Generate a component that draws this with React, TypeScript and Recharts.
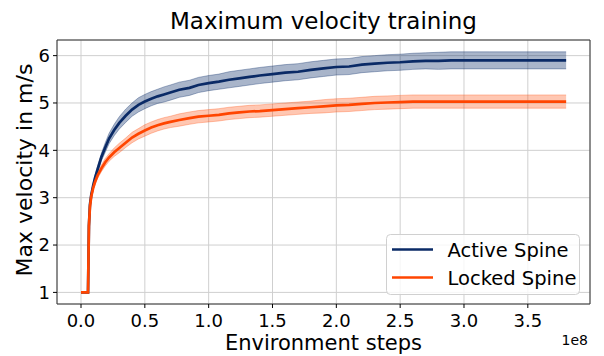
import React from 'react';
import { ComposedChart, Line, Area, XAxis, YAxis, CartesianGrid, ReferenceArea, Label } from 'recharts';

// environment steps, in units of 1e8
const steps = [
  0, 0.055, 0.062, 0.07, 0.08, 0.095, 0.11, 0.13, 0.16, 0.19, 0.22, 0.26, 0.3, 0.35, 0.4, 0.45,
  0.5, 0.55, 0.6, 0.65, 0.7, 0.77, 0.85, 0.92, 1.0, 1.08, 1.16, 1.24, 1.32, 1.4, 1.5, 1.6,
  1.7, 1.8, 1.9, 2.0, 2.1, 2.2, 2.3, 2.4, 2.5, 2.6, 2.7, 2.8, 2.9, 3.0, 3.2, 3.4, 3.6, 3.8,
];

const activeMean = [
  1.0, 1.0, 2.4, 2.85, 3.05, 3.25, 3.42, 3.6, 3.86, 4.06, 4.25, 4.43, 4.58, 4.73, 4.86, 4.96,
  5.03, 5.09, 5.14, 5.18, 5.22, 5.28, 5.32, 5.38, 5.42, 5.45, 5.49, 5.52, 5.55, 5.58, 5.61, 5.64,
  5.66, 5.7, 5.73, 5.76, 5.77, 5.81, 5.83, 5.85, 5.86, 5.88, 5.89, 5.89, 5.9, 5.9, 5.9, 5.9, 5.9, 5.9,
];
const activeSpread = [
  0, 0, 0.02, 0.03, 0.04, 0.05, 0.06, 0.07, 0.08, 0.1, 0.11, 0.12, 0.13, 0.14, 0.14, 0.15,
  0.15, 0.15, 0.15, 0.16, 0.16, 0.16, 0.16, 0.16, 0.16, 0.16, 0.17, 0.17, 0.17, 0.17, 0.17, 0.17,
  0.17, 0.17, 0.17, 0.17, 0.17, 0.17, 0.17, 0.17, 0.17, 0.17, 0.17, 0.18, 0.18, 0.18, 0.18, 0.18, 0.18, 0.18,
];

const lockedMean = [
  1.0, 1.0, 2.4, 2.8, 3.02, 3.2, 3.33, 3.47, 3.62, 3.75, 3.85, 3.96, 4.05, 4.16, 4.27, 4.35,
  4.42, 4.48, 4.53, 4.57, 4.6, 4.64, 4.68, 4.71, 4.73, 4.75, 4.78, 4.8, 4.82, 4.83, 4.85, 4.87,
  4.89, 4.91, 4.93, 4.95, 4.96, 4.98, 5.0, 5.01, 5.02, 5.03, 5.03, 5.03, 5.03, 5.03, 5.03, 5.03, 5.03, 5.03,
];
const lockedSpread = [
  0, 0, 0.02, 0.03, 0.03, 0.04, 0.05, 0.06, 0.07, 0.08, 0.08, 0.09, 0.1, 0.1, 0.11, 0.11,
  0.12, 0.12, 0.12, 0.12, 0.12, 0.13, 0.13, 0.13, 0.13, 0.13, 0.13, 0.13, 0.13, 0.13, 0.13, 0.13,
  0.13, 0.13, 0.14, 0.14, 0.14, 0.14, 0.14, 0.14, 0.14, 0.14, 0.14, 0.14, 0.14, 0.14, 0.14, 0.14, 0.14, 0.14,
];

const xTicks = [0, 0.5, 1, 1.5, 2, 2.5, 3, 3.5];
const yTicks = [1, 2, 3, 4, 5, 6];

const NAVY = '#0a2a66';
const ORANGE = '#ff4500';
const FONT = 'DejaVu Sans, sans-serif';

const data = steps.map((s, i) => ({
  step: s,
  active: activeMean[i],
  activeBand: [activeMean[i] - activeSpread[i], activeMean[i] + activeSpread[i]],
  locked: lockedMean[i],
  lockedBand: [lockedMean[i] - lockedSpread[i], lockedMean[i] + lockedSpread[i]],
}));

const X_DOMAIN = [-0.188, 3.987];
const Y_DOMAIN = [0.755, 6.33];

export default function App() {
  return (
    <div style={{ position: 'absolute', left: 0, top: 0, width: 604, height: 356, background: '#fff' }}>
      <ComposedChart width={604} height={356} data={data} margin={{ top: 40, right: 14, bottom: 0, left: 0 }}>
        <CartesianGrid stroke="#cfcfcf" strokeWidth={1} />
        <XAxis
          dataKey="step"
          type="number"
          domain={X_DOMAIN}
          ticks={xTicks}
          allowDataOverflow
          height={52}
          axisLine={false}
          tickLine={{ stroke: '#000' }}
          tickSize={4}
          tickMargin={6}
          tickFormatter={(v: number) => v.toFixed(1)}
          tick={{ fill: '#000', fontSize: 18, fontFamily: FONT }}
        >
          <Label
            content={({ viewBox }: any) => (
              <text
                x={viewBox.x + viewBox.width / 2}
                y={350}
                textAnchor="middle"
                fontSize={21}
                fontFamily={FONT}
                fill="#000"
              >
                Environment steps
              </text>
            )}
          />
        </XAxis>
        <YAxis
          type="number"
          domain={Y_DOMAIN}
          ticks={yTicks}
          allowDataOverflow
          width={57}
          axisLine={false}
          tickLine={{ stroke: '#000' }}
          tickSize={4}
          tickMargin={3}
          tick={{ fill: '#000', fontSize: 18, fontFamily: FONT }}
        >
          <Label
            content={() => (
              <text
                x={32}
                y={170}
                transform="rotate(-90, 32, 170)"
                textAnchor="middle"
                fontSize={22}
                fontFamily={FONT}
                fill="#000"
              >
                Max velocity in m/s
              </text>
            )}
          />
        </YAxis>
        <Area
          type="linear"
          dataKey="activeBand"
          stroke={NAVY}
          strokeOpacity={0.35}
          strokeWidth={1}
          fill={NAVY}
          fillOpacity={0.35}
          isAnimationActive={false}
          legendType="none"
        />
        <Line type="linear" dataKey="active" stroke={NAVY} strokeWidth={2.7} dot={false} isAnimationActive={false} />
        <Area
          type="linear"
          dataKey="lockedBand"
          stroke={ORANGE}
          strokeOpacity={0.3}
          strokeWidth={1}
          fill={ORANGE}
          fillOpacity={0.3}
          isAnimationActive={false}
          legendType="none"
        />
        <Line type="linear" dataKey="locked" stroke={ORANGE} strokeWidth={2.7} dot={false} isAnimationActive={false} />
        <ReferenceArea
          x1={X_DOMAIN[0]}
          x2={X_DOMAIN[1]}
          y1={Y_DOMAIN[0]}
          y2={Y_DOMAIN[1]}
          fill="none"
          stroke="#333"
          strokeWidth={1}
          ifOverflow="visible"
        />
      </ComposedChart>
      <svg
        width={604}
        height={356}
        style={{ position: 'absolute', left: 0, top: 0, pointerEvents: 'none' }}
        fontFamily={FONT}
      >
        <text x={323.5} y={29} textAnchor="middle" fontSize={23} fill="#000">
          Maximum velocity training
        </text>
        <text x={588} y={345} textAnchor="end" fontSize={14} fill="#000">
          1e8
        </text>
        <rect x={386.5} y={234.5} width={193} height={60} rx={4} fill="#fff" fillOpacity={0.8} stroke="#d0d0d0" />
        <line x1={392} x2={433} y1={249.5} y2={249.5} stroke={NAVY} strokeWidth={2.7} />
        <text x={447.5} y={249.5} dy="0.36em" fontSize={19.5} fill="#000">
          Active Spine
        </text>
        <line x1={392} x2={433} y1={277.5} y2={277.5} stroke={ORANGE} strokeWidth={2.7} />
        <text x={447.5} y={277.5} dy="0.36em" fontSize={19.5} fill="#000">
          Locked Spine
        </text>
      </svg>
    </div>
  );
}
